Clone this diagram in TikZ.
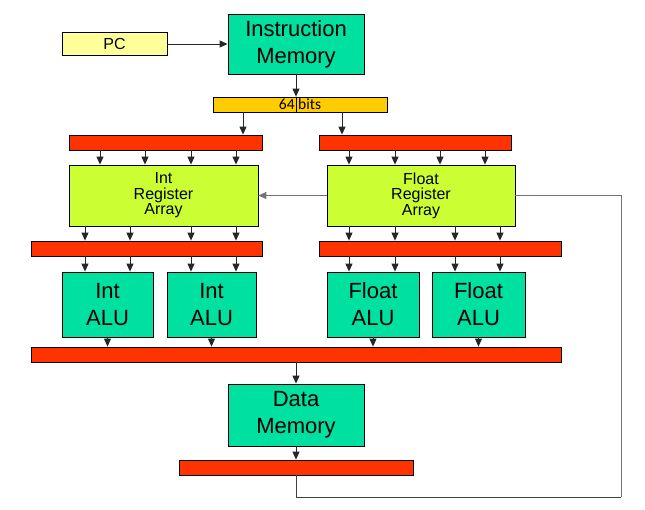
\documentclass[tikz,border=0pt]{standalone}
\usepackage{fontspec}
\setmainfont{Liberation Sans}
\newfontfamily\bitsfont{Carlito}
\usetikzlibrary{arrows.meta}

\definecolor{memgreen}{RGB}{0,224,160}
\definecolor{reglime}{RGB}{204,255,51}
\definecolor{busred}{RGB}{255,51,0}
\definecolor{bitsgold}{RGB}{255,204,0}
\definecolor{pcyellow}{RGB}{255,255,153}

\tikzset{
	unit/.style={draw=black, line width=0.8pt, inner sep=0pt, align=center},
	memunit/.style={unit, fill=memgreen, font=\fontsize{22}{27}\selectfont},
	regunit/.style={unit, fill=reglime, minimum width=189pt, minimum height=61pt, font=\fontsize{16}{15.5}\selectfont},
	aluunit/.style={unit, fill=memgreen, minimum height=65pt, font=\fontsize{22}{27}\selectfont},
	bus/.style={unit, fill=busred, minimum height=15pt},
	wire/.style={line width=0.9pt, black!85, -{Triangle[length=8pt,width=7pt]}},
	backwire/.style={line width=0.9pt, black!55},
}

\begin{document}
\begin{tikzpicture}[x=1pt,y=-1pt]
	\useasboundingbox (0,0) rectangle (645,510);

	% fetch
	\node[unit, fill=pcyellow, minimum width=105pt, minimum height=23pt, font=\fontsize{16}{18}\selectfont] (pc) at (114.5,44) {PC};
	\node[memunit, minimum width=136pt, minimum height=60pt] (imem) at (296,44) {Instruction\\Memory};
	\node[unit, fill=bitsgold, minimum width=174pt, minimum height=15pt, font=\bitsfont\fontsize{15.5}{16}\selectfont] (bits) at (300,104.5) {64 bits};
	\draw[line width=0.8pt] (bits.north -| imem.south) -- (bits.south -| imem.south);
	\draw[wire] (pc.east) -- (pc.east -| imem.west);
	\draw[wire] (imem.south) -- (bits.north -| imem.south);

	% issue buses
	\node[bus, minimum width=193pt] (ibusA) at (165.5,142.5) {};
	\node[bus, minimum width=192pt] (fbusA) at (415,142.5) {};
	\draw[wire] (bits.south -| 243,0) -- (ibusA.north -| 243,0);
	\draw[wire] (bits.south -| 342,0) -- (fbusA.north -| 342,0);

	% register arrays
	\node[regunit] (intreg) at (163.5,195.5) {Int\\Register\\Array};
	\node[regunit, minimum width=188pt] (fltreg) at (421,195.5) {Float\\Register\\Array};
	\draw[wire] (ibusA.south -| 100,0) -- (intreg.north -| 100,0);
	\draw[wire] (ibusA.south -| 145,0) -- (intreg.north -| 145,0);
	\draw[wire] (ibusA.south -| 191,0) -- (intreg.north -| 191,0);
	\draw[wire] (ibusA.south -| 236,0) -- (intreg.north -| 236,0);
	\draw[wire] (fbusA.south -| 349,0) -- (fltreg.north -| 349,0);
	\draw[wire] (fbusA.south -| 395,0) -- (fltreg.north -| 395,0);
	\draw[wire] (fbusA.south -| 440,0) -- (fltreg.north -| 440,0);
	\draw[wire] (fbusA.south -| 485,0) -- (fltreg.north -| 485,0);
	\draw[wire, black!55] (fltreg.west) -- (intreg.east);

	% operand buses
	\node[bus, minimum width=231pt] (ibusB) at (146.5,248.5) {};
	\node[bus, minimum width=242pt] (fbusB) at (440,248.5) {};
	\draw[wire] (intreg.south -| 85,0) -- (ibusB.north -| 85,0);
	\draw[wire] (intreg.south -| 130,0) -- (ibusB.north -| 130,0);
	\draw[wire] (intreg.south -| 191,0) -- (ibusB.north -| 191,0);
	\draw[wire] (intreg.south -| 236,0) -- (ibusB.north -| 236,0);
	\draw[wire] (fltreg.south -| 349,0) -- (fbusB.north -| 349,0);
	\draw[wire] (fltreg.south -| 395,0) -- (fbusB.north -| 395,0);
	\draw[wire] (fltreg.south -| 455,0) -- (fbusB.north -| 455,0);
	\draw[wire] (fltreg.south -| 500,0) -- (fbusB.north -| 500,0);

	% ALUs
	\node[aluunit, minimum width=91pt] (ialuA) at (107.5,304.5) {Int\\ALU};
	\node[aluunit, minimum width=89pt] (ialuB) at (211.5,304.5) {Int\\ALU};
	\node[aluunit, minimum width=92pt] (faluA) at (373,304.5) {Float\\ALU};
	\node[aluunit, minimum width=93pt] (faluB) at (478.5,304.5) {Float\\ALU};
	\draw[wire] (ibusB.south -| 85,0) -- (ialuA.north -| 85,0);
	\draw[wire] (ibusB.south -| 130,0) -- (ialuA.north -| 130,0);
	\draw[wire] (ibusB.south -| 191,0) -- (ialuB.north -| 191,0);
	\draw[wire] (ibusB.south -| 236,0) -- (ialuB.north -| 236,0);
	\draw[wire] (fbusB.south -| 349,0) -- (faluA.north -| 349,0);
	\draw[wire] (fbusB.south -| 395,0) -- (faluA.north -| 395,0);
	\draw[wire] (fbusB.south -| 455,0) -- (faluB.north -| 455,0);
	\draw[wire] (fbusB.south -| 500,0) -- (faluB.north -| 500,0);

	% result bus and data memory
	\node[bus, minimum width=530pt] (resbus) at (296,354.5) {};
	\draw[wire] (ialuA.south) -- (resbus.north -| ialuA.south);
	\draw[wire] (ialuB.south) -- (resbus.north -| ialuB.south);
	\draw[wire] (faluA.south) -- (resbus.north -| faluA.south);
	\draw[wire] (faluB.south) -- (resbus.north -| faluB.south);
	\node[memunit, minimum width=136pt, minimum height=62pt] (dmem) at (296,415) {Data\\Memory};
	\node[bus, minimum width=234pt] (wbbus) at (296,467.5) {};
	\draw[wire] (resbus.south -| dmem.north) -- (dmem.north);
	\draw[wire] (dmem.south) -- (wbbus.north);

	% write back
	\coordinate (loopcorner) at (621,497);
	\draw[backwire] (fltreg.east) -| (loopcorner);
	\draw[line width=0.9pt, black!75] (loopcorner) -| (wbbus.south);
\end{tikzpicture}
\end{document}
